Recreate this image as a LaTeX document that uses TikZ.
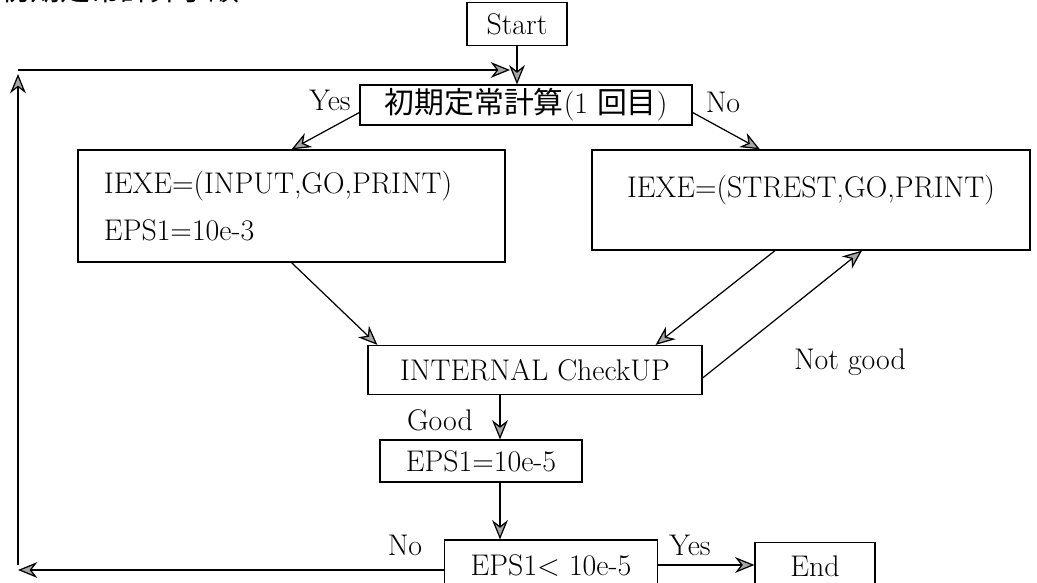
\documentclass[tikz,border=0pt]{standalone}
\usepackage{fontspec}
\newfontfamily\jpfont{Noto Sans CJK JP}
\usetikzlibrary{arrows.meta}

\begin{document}
\begin{tikzpicture}[
    font=\fontsize{17}{20}\selectfont,
    >={Stealth[length=11pt,width=9pt,inset=3.5pt,fill=gray!70]},
    line width=0.7pt,
    caja/.style={
        draw,
        inner sep=0pt,
        align=center
    },
    rotulo/.style={inner sep=1pt}
]
    \useasboundingbox (0,0) rectangle (20.74,11.66);

    % titulo cortado por el borde
    \node[anchor=base west, inner sep=0pt, font=\fontsize{17}{20}\selectfont\jpfont] (titulo)
        at (0,11.64) {初期定常計算手順};

    \node[caja, minimum width=2cm, minimum height=0.86cm] (start) at (10.34,11.18) {Start};
    \node[caja, minimum width=6.64cm, minimum height=0.8cm] (primero) at (10.52,9.56)
        {{\jpfont 初期定常計算}(1 {\jpfont 回目})};
    \node[caja, minimum width=8.54cm, minimum height=2.24cm, text width=7.5cm, align=left] (input)
        at (5.83,7.54) {IEXE=(INPUT,GO,PRINT)\\[0.22cm]EPS1=10e-3};
    \node[caja, minimum width=8.76cm, minimum height=2cm, text depth=0.56cm] (strest)
        at (16.22,7.66) {IEXE=(STREST,GO,PRINT)};
    \node[caja, minimum width=6.68cm, minimum height=0.98cm] (check) at (10.70,4.26) {INTERNAL CheckUP};
    \node[caja, minimum width=4.04cm, minimum height=0.84cm] (eps) at (9.62,2.44) {EPS1=10e-5};
    \node[caja, minimum width=4.26cm, minimum height=1.0cm] (prueba) at (11.02,0.36) {EPS1< 10e-5};
    \node[caja, minimum width=2.4cm, minimum height=0.94cm] (fin) at (16.3,0.34) {End};

    % vuelta al principio
    \coordinate (esquina) at (0.36,0.26);
    \coordinate (arriba) at (0.36,10.18);
    \coordinate (codo) at (0.36,10.26);
    \coordinate (entrada) at (10.2,10.26);

    \draw[->] (start.south) -- (start.south |- primero.north);
    \draw[->] ([yshift=-0.15cm]primero.west) -- (input.north);
    \draw[->] ([yshift=-0.15cm]primero.east) -- ([xshift=-1.02cm]strest.north);
    \draw[->] (input.south) -- ([xshift=0.2cm]check.north west);
    \draw[->] ([xshift=-0.72cm]strest.south) -- ([xshift=-0.94cm]check.north east);
    \draw[->] ([yshift=-0.16cm]check.east) -- ([xshift=1.02cm]strest.south);
    \draw[->] ([xshift=-0.7cm]check.south) -- ([xshift=-0.7cm]check.south |- eps.north);
    \draw[->] ([xshift=0.38cm]eps.south) -- ([xshift=0.38cm]eps.south |- prueba.north);
    \draw[->] (prueba.east) -- (prueba.east -| fin.west);
    \draw[->] (prueba.west |- esquina) -- (esquina);
    \draw[->] ([yshift=0.1cm]esquina) -- (arriba);
    \draw[->] (codo) -- (entrada);

    \node[rotulo] (si1) at (6.6,9.66) {Yes};
    \node[rotulo] (no1) at (14.46,9.62) {No};
    \node[rotulo] (malo) at (17.0,4.42) {Not good};
    \node[rotulo] (bueno) at (8.8,3.26) {Good};
    \node[rotulo] (no2) at (8.1,0.76) {No};
    \node[rotulo] (si2) at (13.8,0.76) {Yes};
\end{tikzpicture}
\end{document}
